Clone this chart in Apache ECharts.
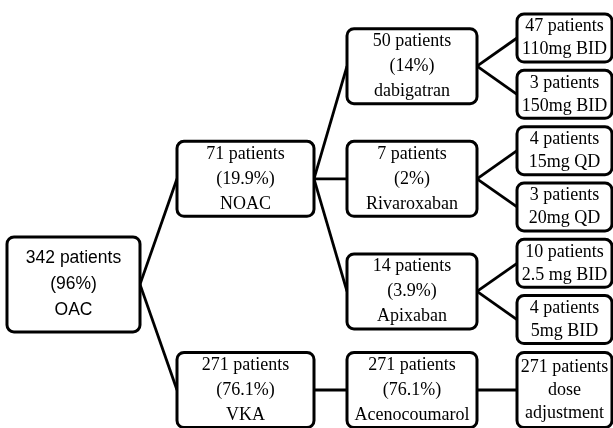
<!DOCTYPE html>
<html><head><meta charset="utf-8">
<script src="https://cdn.jsdelivr.net/npm/echarts@6/dist/echarts.min.js"></script>
<style>html,body{margin:0;padding:0;background:#fff}#c{width:613px;height:428px}</style>
</head><body><div id="c"></div>
<script>
// ---- data ----
const nodeIds = ['OAC','NOAC','VKA','dabigatran','Rivaroxaban','Apixaban','Acenocoumarol','d110','d150','r15','r20','a25','a5','dose'];
const nodeParents = [null,'OAC','OAC','NOAC','NOAC','NOAC','VKA','dabigatran','dabigatran','Rivaroxaban','Rivaroxaban','Apixaban','Apixaban','Acenocoumarol'];
const nodePatients = [342,71,271,50,7,14,271,47,3,4,3,10,4,271];
const nodePercents = [96,19.9,76.1,14,2,3.9,76.1,null,null,null,null,null,null,null];
const nodeLabels = ['OAC','NOAC','VKA','dabigatran','Rivaroxaban','Apixaban','Acenocoumarol','110mg BID','150mg BID','15mg QD','20mg QD','2.5 mg BID','5mg BID','dose\nadjustment'];

// ---- styles ----
const LEVEL_WIDTH = [133, 137, 130, 95];
const SERIF = '"Liberation Serif","Times New Roman",serif';
const SANS = '"Liberation Sans",Arial,sans-serif';

// ---- tree layout (tidy: leaves in order, parents centred on children) ----
const idx = {}; nodeIds.forEach((id,i)=>idx[id]=i);
const children = nodeIds.map(()=>[]);
nodeParents.forEach((p,i)=>{ if(p!==null) children[idx[p]].push(i); });
const level = nodeIds.map((id,i)=>{ let l=0, p=nodeParents[i]; while(p!==null){ l++; p=nodeParents[idx[p]]; } return l; });
const slot = new Array(nodeIds.length);
let cursor = null, lastBranch = null;
function branchOf(i){ let c=i; while(level[c]>1) c=idx[nodeParents[c]]; return c; }
function layout(i){
  if(children[i].length===0){
    const b = branchOf(i);
    if(cursor===null) cursor = 0; else cursor += (b===lastBranch ? 1 : 1.25);
    lastBranch = b; slot[i] = cursor;
  } else {
    children[i].forEach(layout);
    slot[i] = children[i].reduce((s,c)=>s+slot[c],0)/children[i].length;
  }
}
layout(0);
const maxSlot = Math.max(...slot);

function labelOf(i){
  const lines = [nodePatients[i] + ' patients'];
  if(nodePercents[i]!==null) lines.push('(' + nodePercents[i] + '%)');
  lines.push(nodeLabels[i]);
  return lines.join('\n');
}
function heightOf(i){
  if(level[i]===0) return 95;
  const n = labelOf(i).split('\n').length;
  return n>=3 ? 75 : 48;
}

const nodeData = nodeIds.map((id,i)=>[level[i], slot[i], i]);
const edgeData = nodeIds.map((id,i)=>[level[i], slot[i], i]).filter(d=>nodeParents[d[2]]!==null);

const chart = echarts.init(document.getElementById('c'));
chart.setOption({
  animation:false,
  backgroundColor:'#fff',
  grid:{left:7,right:96,top:38,bottom:38},
  xAxis:{type:'value',min:0,max:3,show:false},
  yAxis:{type:'value',min:0,max:maxSlot,inverse:true,show:false},
  series:[
    {
      type:'custom', coordinateSystem:'cartesian2d', clip:false, z:1,
      data:edgeData, encode:{x:0,y:1},
      renderItem(params, api){
        const i = api.value(2);
        const p = idx[nodeParents[i]];
        const a = api.coord([level[p], slot[p]]);
        const b = api.coord([api.value(0), api.value(1)]);
        return {type:'line', shape:{x1:a[0]+LEVEL_WIDTH[level[p]], y1:a[1], x2:b[0], y2:b[1]},
          style:{stroke:'#000', lineWidth:2.8}};
      }
    },
    {
      type:'custom', coordinateSystem:'cartesian2d', clip:false, z:2,
      data:nodeData, encode:{x:0,y:1},
      renderItem(params, api){
        const i = api.value(2);
        const l = api.value(0);
        const p = api.coord([l, api.value(1)]);
        const w = LEVEL_WIDTH[l], h = heightOf(i);
        const isRoot = l===0;
        return {type:'group', children:[
          {type:'rect', shape:{x:p[0], y:p[1]-h/2, width:w, height:h, r:7},
            style:{fill:'#fff', stroke:'#000', lineWidth:3}},
          {type:'text', x:p[0]+w/2, y:p[1],
            style:{text:labelOf(i), fill:'#000', align:'center', verticalAlign:'middle',
              fontFamily: isRoot?SANS:SERIF, fontSize: isRoot?17.5:18,
              lineHeight: isRoot?26:(l===3?23:25)}}
        ]};
      }
    }
  ]
});
</script></body></html>
